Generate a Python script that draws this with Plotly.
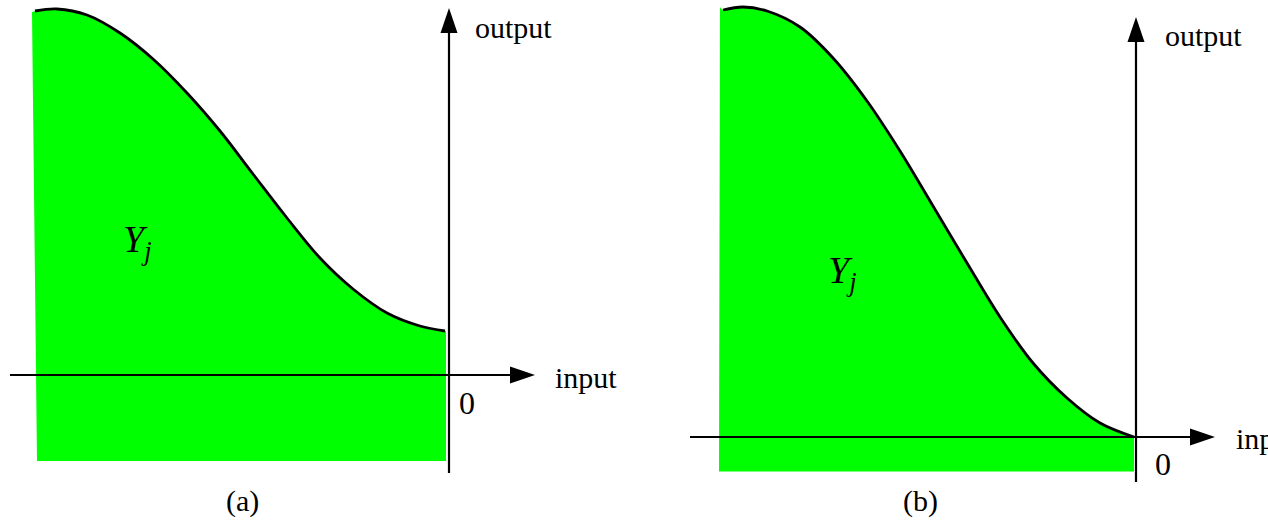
import plotly.graph_objects as go
from plotly.subplots import make_subplots

# Panel (a): response curve that stays above zero at input = 0
a_input = [-4.14, -3.92, -3.62, -3.29, -2.96, -2.62, -2.29, -1.96, -1.62, -1.29, -0.96, -0.62, -0.29, -0.04]
a_output = [3.64, 3.66, 3.60, 3.42, 3.16, 2.82, 2.44, 2.01, 1.57, 1.17, 0.86, 0.62, 0.49, 0.44]
a_fill_bottom = -0.86
a_fill_left_top = (-4.17, 3.63)
a_fill_left_bottom = -4.12
a_fill_right = -0.03

# Panel (b): response curve that reaches zero at input = 0
b_input = [-4.13, -3.93, -3.69, -3.36, -3.03, -2.69, -2.36, -2.03, -1.69, -1.36, -1.03, -0.69, -0.36, -0.02]
b_output = [4.27, 4.30, 4.26, 4.10, 3.79, 3.36, 2.86, 2.31, 1.74, 1.20, 0.74, 0.39, 0.14, 0.0]
b_fill_bottom = -0.345
b_fill_left_top = (-4.16, 4.30)
b_fill_left_bottom = -4.17
b_fill_right = -0.02

GREEN = "#00FF00"
FONT = "Liberation Serif, Times New Roman, serif"

fig = make_subplots(rows=1, cols=2, horizontal_spacing=0)


def add_panel(col, xs, ys, bottom, left_top, left_bottom, right):
    # baseline for the filled region
    fig.add_trace(go.Scatter(x=[left_bottom, right], y=[bottom, bottom], mode="lines",
                             line=dict(width=0, color=GREEN), showlegend=False,
                             hoverinfo="skip"), row=1, col=col)
    # green region under the curve
    fig.add_trace(go.Scatter(x=[left_top[0]] + xs + [right],
                             y=[left_top[1]] + ys + [ys[-1]],
                             mode="lines", line=dict(width=0, color=GREEN, shape="spline"),
                             fill="tonexty", fillcolor=GREEN, showlegend=False,
                             hoverinfo="skip"), row=1, col=col)
    # the curve itself
    fig.add_trace(go.Scatter(x=xs, y=ys, mode="lines",
                             line=dict(width=2.8, color="black", shape="spline"),
                             showlegend=False), row=1, col=col)


add_panel(1, a_input, a_output, a_fill_bottom, a_fill_left_top, a_fill_left_bottom, a_fill_right)
add_panel(2, b_input, b_output, b_fill_bottom, b_fill_left_top, b_fill_left_bottom, b_fill_right)


def add_axes(xref, yref, h_start, h_end, v_start, v_end, head_len=0.25, head_half=0.085):
    line = dict(color="black", width=2.2)
    fig.add_shape(type="line", xref=xref, yref=yref, x0=h_start, x1=h_end, y0=0, y1=0, line=line)
    fig.add_shape(type="line", xref=xref, yref=yref, x0=0, x1=0, y0=v_start, y1=v_end, line=line)
    fig.add_shape(type="path", xref=xref, yref=yref, fillcolor="black", line=dict(width=0),
                  path=f"M {h_end},{head_half} L {h_end + head_len},0 L {h_end},{-head_half} Z")
    fig.add_shape(type="path", xref=xref, yref=yref, fillcolor="black", line=dict(width=0),
                  path=f"M {-head_half},{v_end} L 0,{v_end + head_len} L {head_half},{v_end} Z")


add_axes("x", "y", -4.39, 0.61, -0.98, 3.42)
add_axes("x2", "y2", -4.46, 0.54, -0.45, 3.95)


def label(text, xref, yref, x, y, xanchor="left", size=30):
    fig.add_annotation(text=text, xref=xref, yref=yref, x=x, y=y, showarrow=False,
                       xanchor=xanchor, yanchor="middle",
                       font=dict(family=FONT, size=size, color="black"))


YJ = "<i>Y</i><sub><i>j</i></sub>"

label("output", "x", "y", 0.24, 3.48)
label("input", "x", "y", 1.04, -0.02)
label("0", "x", "y", 0.08, -0.28, size=32)
label(YJ, "x", "y", -3.28, 1.33, size=38)
label("(a)", "x", "y", -2.07, -1.26, xanchor="center")

label("output", "x2", "y2", 0.27, 4.02)
label("input", "x2", "y2", 0.98, -0.01)
label("0", "x2", "y2", 0.17, -0.27, size=32)
label(YJ, "x2", "y2", -3.10, 1.64, size=38)
label("(b)", "x2", "y2", -2.16, -0.64, xanchor="center")

fig.update_xaxes(visible=False, fixedrange=True)
fig.update_yaxes(visible=False, fixedrange=True)
fig.update_layout(
    xaxis=dict(domain=[0, 0.5], range=[-4.49, 1.85]),
    xaxis2=dict(domain=[0.5, 1], range=[-5.02, 1.32]),
    yaxis=dict(domain=[0, 1], range=[-1.53, 3.75]),
    yaxis2=dict(domain=[0, 1], range=[-0.91, 4.37]),
    width=1268, height=528,
    margin=dict(l=0, r=0, t=0, b=0),
    paper_bgcolor="white", plot_bgcolor="white",
    showlegend=False,
)

fig.write_html("out.html", config={"displayModeBar": False})
